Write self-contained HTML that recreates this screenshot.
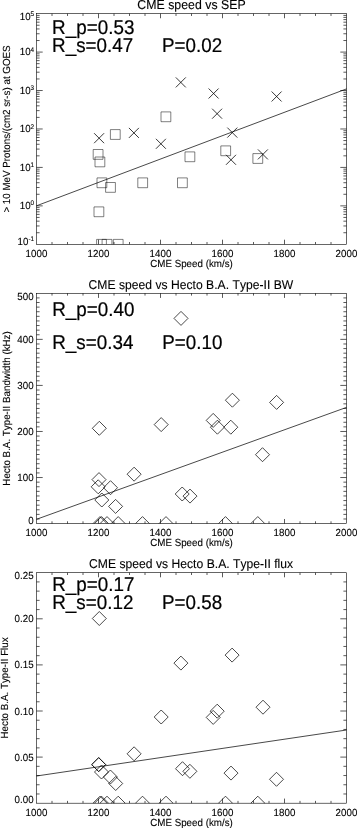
<!DOCTYPE html>
<html><head><meta charset="utf-8"><title>CME speed correlations</title>
<style>
html,body{margin:0;padding:0;background:#fff;}
svg{display:block;font-family:"Liberation Sans",sans-serif;fill:#000;font-kerning:none;}
</style></head>
<body>
<svg width="357" height="828" viewBox="0 0 357 828">
<rect width="357" height="828" fill="#fff"/>
<defs>
<clipPath id="c1"><rect x="36.5" y="13.65" width="310.0" height="230.65"/></clipPath>
<clipPath id="c2"><rect x="36.5" y="293.3" width="310.0" height="230.30"/></clipPath>
<clipPath id="c3"><rect x="36.5" y="572.7" width="310.0" height="230.50"/></clipPath>
</defs>
<rect x="36.5" y="13.65" width="310.0" height="230.65" fill="none" stroke="#000" stroke-width="0.6"/>
<path d="M52.00 244.3v-2.31M52.00 13.65v2.31M67.50 244.3v-2.31M67.50 13.65v2.31M83.00 244.3v-2.31M83.00 13.65v2.31M98.50 244.3v-4.61M98.50 13.65v4.61M114.00 244.3v-2.31M114.00 13.65v2.31M129.50 244.3v-2.31M129.50 13.65v2.31M145.00 244.3v-2.31M145.00 13.65v2.31M160.50 244.3v-4.61M160.50 13.65v4.61M176.00 244.3v-2.31M176.00 13.65v2.31M191.50 244.3v-2.31M191.50 13.65v2.31M207.00 244.3v-2.31M207.00 13.65v2.31M222.50 244.3v-4.61M222.50 13.65v4.61M238.00 244.3v-2.31M238.00 13.65v2.31M253.50 244.3v-2.31M253.50 13.65v2.31M269.00 244.3v-2.31M269.00 13.65v2.31M284.50 244.3v-4.61M284.50 13.65v4.61M300.00 244.3v-2.31M300.00 13.65v2.31M315.50 244.3v-2.31M315.50 13.65v2.31M331.00 244.3v-2.31M331.00 13.65v2.31" stroke="#000" stroke-width="0.65" fill="none"/>
<text transform="translate(36.50 256.80) skewX(0.3) scale(1 1.05)" text-anchor="middle" font-size="9.8" stroke="#000" stroke-width="0.1">1000</text>
<text transform="translate(98.50 256.80) skewX(0.3) scale(1 1.05)" text-anchor="middle" font-size="9.8" stroke="#000" stroke-width="0.1">1200</text>
<text transform="translate(160.50 256.80) skewX(0.3) scale(1 1.05)" text-anchor="middle" font-size="9.8" stroke="#000" stroke-width="0.1">1400</text>
<text transform="translate(222.50 256.80) skewX(0.3) scale(1 1.05)" text-anchor="middle" font-size="9.8" stroke="#000" stroke-width="0.1">1600</text>
<text transform="translate(284.50 256.80) skewX(0.3) scale(1 1.05)" text-anchor="middle" font-size="9.8" stroke="#000" stroke-width="0.1">1800</text>
<text transform="translate(346.50 256.80) skewX(0.3) scale(1 1.05)" text-anchor="middle" font-size="9.8" stroke="#000" stroke-width="0.1">2000</text>
<text transform="translate(191.50 266.90) skewX(0.3) scale(1 1.05)" text-anchor="middle" font-size="9.8" stroke="#000" stroke-width="0.1">CME Speed (km/s)</text>
<path d="M36.5 232.73h3.10M346.5 232.73h-3.10M36.5 225.96h3.10M346.5 225.96h-3.10M36.5 221.16h3.10M346.5 221.16h-3.10M36.5 217.43h3.10M346.5 217.43h-3.10M36.5 214.39h3.10M346.5 214.39h-3.10M36.5 211.81h3.10M346.5 211.81h-3.10M36.5 209.58h3.10M346.5 209.58h-3.10M36.5 207.62h3.10M346.5 207.62h-3.10M36.5 205.86h6.20M346.5 205.86h-6.20M36.5 194.29h3.10M346.5 194.29h-3.10M36.5 187.52h3.10M346.5 187.52h-3.10M36.5 182.71h3.10M346.5 182.71h-3.10M36.5 178.99h3.10M346.5 178.99h-3.10M36.5 175.94h3.10M346.5 175.94h-3.10M36.5 173.37h3.10M346.5 173.37h-3.10M36.5 171.14h3.10M346.5 171.14h-3.10M36.5 169.18h3.10M346.5 169.18h-3.10M36.5 167.42h6.20M346.5 167.42h-6.20M36.5 155.84h3.10M346.5 155.84h-3.10M36.5 149.08h3.10M346.5 149.08h-3.10M36.5 144.27h3.10M346.5 144.27h-3.10M36.5 140.55h3.10M346.5 140.55h-3.10M36.5 137.50h3.10M346.5 137.50h-3.10M36.5 134.93h3.10M346.5 134.93h-3.10M36.5 132.70h3.10M346.5 132.70h-3.10M36.5 130.73h3.10M346.5 130.73h-3.10M36.5 128.97h6.20M346.5 128.97h-6.20M36.5 117.40h3.10M346.5 117.40h-3.10M36.5 110.63h3.10M346.5 110.63h-3.10M36.5 105.83h3.10M346.5 105.83h-3.10M36.5 102.11h3.10M346.5 102.11h-3.10M36.5 99.06h3.10M346.5 99.06h-3.10M36.5 96.49h3.10M346.5 96.49h-3.10M36.5 94.26h3.10M346.5 94.26h-3.10M36.5 92.29h3.10M346.5 92.29h-3.10M36.5 90.53h6.20M346.5 90.53h-6.20M36.5 78.96h3.10M346.5 78.96h-3.10M36.5 72.19h3.10M346.5 72.19h-3.10M36.5 67.39h3.10M346.5 67.39h-3.10M36.5 63.66h3.10M346.5 63.66h-3.10M36.5 60.62h3.10M346.5 60.62h-3.10M36.5 58.05h3.10M346.5 58.05h-3.10M36.5 55.82h3.10M346.5 55.82h-3.10M36.5 53.85h3.10M346.5 53.85h-3.10M36.5 52.09h6.20M346.5 52.09h-6.20M36.5 40.52h3.10M346.5 40.52h-3.10M36.5 33.75h3.10M346.5 33.75h-3.10M36.5 28.95h3.10M346.5 28.95h-3.10M36.5 25.22h3.10M346.5 25.22h-3.10M36.5 22.18h3.10M346.5 22.18h-3.10M36.5 19.60h3.10M346.5 19.60h-3.10M36.5 17.38h3.10M346.5 17.38h-3.10M36.5 15.41h3.10M346.5 15.41h-3.10" stroke="#000" stroke-width="0.65" fill="none"/>
<text transform="translate(34.20 244.60) skewX(0.3) scale(1 1.05)" text-anchor="end" font-size="9.8" stroke="#000" stroke-width="0.1">10<tspan font-size="6.4" dy="-3.5">-1</tspan></text>
<text transform="translate(34.20 209.06) skewX(0.3) scale(1 1.05)" text-anchor="end" font-size="9.8" stroke="#000" stroke-width="0.1">10<tspan font-size="6.4" dy="-3.5">0</tspan></text>
<text transform="translate(34.20 170.62) skewX(0.3) scale(1 1.05)" text-anchor="end" font-size="9.8" stroke="#000" stroke-width="0.1">10<tspan font-size="6.4" dy="-3.5">1</tspan></text>
<text transform="translate(34.20 132.17) skewX(0.3) scale(1 1.05)" text-anchor="end" font-size="9.8" stroke="#000" stroke-width="0.1">10<tspan font-size="6.4" dy="-3.5">2</tspan></text>
<text transform="translate(34.20 93.73) skewX(0.3) scale(1 1.05)" text-anchor="end" font-size="9.8" stroke="#000" stroke-width="0.1">10<tspan font-size="6.4" dy="-3.5">3</tspan></text>
<text transform="translate(34.20 55.29) skewX(0.3) scale(1 1.05)" text-anchor="end" font-size="9.8" stroke="#000" stroke-width="0.1">10<tspan font-size="6.4" dy="-3.5">4</tspan></text>
<text transform="translate(34.20 20.15) skewX(0.3) scale(1 1.05)" text-anchor="end" font-size="9.8" stroke="#000" stroke-width="0.1">10<tspan font-size="6.4" dy="-3.5">5</tspan></text>
<text transform="translate(10.3 128.97) rotate(-90) skewX(0.3) scale(1 1.05)" text-anchor="middle" font-size="9.8" stroke="#000" stroke-width="0.1">&gt; 10 MeV Protons/(cm2 sr-s) at GOES</text>
<text transform="translate(191.50 9.00) skewX(0.3) scale(1 1.05)" text-anchor="middle" font-size="12.35" stroke="#000" stroke-width="0.1">CME speed vs SEP</text>
<text transform="translate(52.00 33.60) skewX(0.3) scale(1 1.05)" font-size="18.9" stroke="#000" stroke-width="0.2">R_p=0.53</text>
<text transform="translate(52.00 52.40) skewX(0.3) scale(1 1.05)" font-size="18.9" stroke="#000" stroke-width="0.2">R_s=0.47</text>
<text transform="translate(161.90 52.40) skewX(0.3) scale(1 1.05)" font-size="18.9" stroke="#000" stroke-width="0.2">P=0.02</text>
<path d="M36.5 205.8L346.5 88.9" stroke="#000" stroke-width="0.72" fill="none"/>
<path d="M94.10 133.20l10.0 10.0M94.10 143.20l10.0 -10.0M128.90 127.90l10.0 10.0M128.90 137.90l10.0 -10.0M155.90 138.80l10.0 10.0M155.90 148.80l10.0 -10.0M175.80 77.40l10.0 10.0M175.80 87.40l10.0 -10.0M208.60 88.50l10.0 10.0M208.60 98.50l10.0 -10.0M212.10 108.70l10.0 10.0M212.10 118.70l10.0 -10.0M227.30 127.60l10.0 10.0M227.30 137.60l10.0 -10.0M226.00 154.80l10.0 10.0M226.00 164.80l10.0 -10.0M271.60 91.50l10.0 10.0M271.60 101.50l10.0 -10.0M257.90 149.40l10.0 10.0M257.90 159.40l10.0 -10.0" stroke="#000" stroke-width="0.78" fill="none" clip-path="url(#c1)"/>
<path d="M110.40 129.60h9.8v9.8h-9.8zM161.00 111.90h9.8v9.8h-9.8zM93.20 149.50h9.8v9.8h-9.8zM95.00 157.00h9.8v9.8h-9.8zM97.00 177.90h9.8v9.8h-9.8zM105.60 182.50h9.8v9.8h-9.8zM137.80 177.90h9.8v9.8h-9.8zM94.00 206.90h9.8v9.8h-9.8zM185.00 151.90h9.8v9.8h-9.8zM220.80 145.90h9.8v9.8h-9.8zM177.50 177.90h9.8v9.8h-9.8zM252.90 153.60h9.8v9.8h-9.8zM96.60 239.40h9.8v9.8h-9.8zM102.10 239.40h9.8v9.8h-9.8zM113.30 239.40h9.8v9.8h-9.8z" stroke="#000" stroke-width="0.5" fill="none" clip-path="url(#c1)"/>
<rect x="36.5" y="293.3" width="310.0" height="230.30" fill="none" stroke="#000" stroke-width="0.6"/>
<path d="M52.00 523.6v-2.30M52.00 293.3v2.30M67.50 523.6v-2.30M67.50 293.3v2.30M83.00 523.6v-2.30M83.00 293.3v2.30M98.50 523.6v-4.61M98.50 293.3v4.61M114.00 523.6v-2.30M114.00 293.3v2.30M129.50 523.6v-2.30M129.50 293.3v2.30M145.00 523.6v-2.30M145.00 293.3v2.30M160.50 523.6v-4.61M160.50 293.3v4.61M176.00 523.6v-2.30M176.00 293.3v2.30M191.50 523.6v-2.30M191.50 293.3v2.30M207.00 523.6v-2.30M207.00 293.3v2.30M222.50 523.6v-4.61M222.50 293.3v4.61M238.00 523.6v-2.30M238.00 293.3v2.30M253.50 523.6v-2.30M253.50 293.3v2.30M269.00 523.6v-2.30M269.00 293.3v2.30M284.50 523.6v-4.61M284.50 293.3v4.61M300.00 523.6v-2.30M300.00 293.3v2.30M315.50 523.6v-2.30M315.50 293.3v2.30M331.00 523.6v-2.30M331.00 293.3v2.30" stroke="#000" stroke-width="0.65" fill="none"/>
<text transform="translate(36.50 536.10) skewX(0.3) scale(1 1.05)" text-anchor="middle" font-size="9.8" stroke="#000" stroke-width="0.1">1000</text>
<text transform="translate(98.50 536.10) skewX(0.3) scale(1 1.05)" text-anchor="middle" font-size="9.8" stroke="#000" stroke-width="0.1">1200</text>
<text transform="translate(160.50 536.10) skewX(0.3) scale(1 1.05)" text-anchor="middle" font-size="9.8" stroke="#000" stroke-width="0.1">1400</text>
<text transform="translate(222.50 536.10) skewX(0.3) scale(1 1.05)" text-anchor="middle" font-size="9.8" stroke="#000" stroke-width="0.1">1600</text>
<text transform="translate(284.50 536.10) skewX(0.3) scale(1 1.05)" text-anchor="middle" font-size="9.8" stroke="#000" stroke-width="0.1">1800</text>
<text transform="translate(346.50 536.10) skewX(0.3) scale(1 1.05)" text-anchor="middle" font-size="9.8" stroke="#000" stroke-width="0.1">2000</text>
<text transform="translate(191.50 546.20) skewX(0.3) scale(1 1.05)" text-anchor="middle" font-size="9.8" stroke="#000" stroke-width="0.1">CME Speed (km/s)</text>
<path d="M36.5 518.99h3.10M346.5 518.99h-3.10M36.5 514.39h3.10M346.5 514.39h-3.10M36.5 509.78h3.10M346.5 509.78h-3.10M36.5 505.18h3.10M346.5 505.18h-3.10M36.5 500.57h3.10M346.5 500.57h-3.10M36.5 495.96h3.10M346.5 495.96h-3.10M36.5 491.36h3.10M346.5 491.36h-3.10M36.5 486.75h3.10M346.5 486.75h-3.10M36.5 482.15h3.10M346.5 482.15h-3.10M36.5 477.54h6.20M346.5 477.54h-6.20M36.5 472.93h3.10M346.5 472.93h-3.10M36.5 468.33h3.10M346.5 468.33h-3.10M36.5 463.72h3.10M346.5 463.72h-3.10M36.5 459.12h3.10M346.5 459.12h-3.10M36.5 454.51h3.10M346.5 454.51h-3.10M36.5 449.90h3.10M346.5 449.90h-3.10M36.5 445.30h3.10M346.5 445.30h-3.10M36.5 440.69h3.10M346.5 440.69h-3.10M36.5 436.09h3.10M346.5 436.09h-3.10M36.5 431.48h6.20M346.5 431.48h-6.20M36.5 426.87h3.10M346.5 426.87h-3.10M36.5 422.27h3.10M346.5 422.27h-3.10M36.5 417.66h3.10M346.5 417.66h-3.10M36.5 413.06h3.10M346.5 413.06h-3.10M36.5 408.45h3.10M346.5 408.45h-3.10M36.5 403.84h3.10M346.5 403.84h-3.10M36.5 399.24h3.10M346.5 399.24h-3.10M36.5 394.63h3.10M346.5 394.63h-3.10M36.5 390.03h3.10M346.5 390.03h-3.10M36.5 385.42h6.20M346.5 385.42h-6.20M36.5 380.81h3.10M346.5 380.81h-3.10M36.5 376.21h3.10M346.5 376.21h-3.10M36.5 371.60h3.10M346.5 371.60h-3.10M36.5 367.00h3.10M346.5 367.00h-3.10M36.5 362.39h3.10M346.5 362.39h-3.10M36.5 357.78h3.10M346.5 357.78h-3.10M36.5 353.18h3.10M346.5 353.18h-3.10M36.5 348.57h3.10M346.5 348.57h-3.10M36.5 343.97h3.10M346.5 343.97h-3.10M36.5 339.36h6.20M346.5 339.36h-6.20M36.5 334.75h3.10M346.5 334.75h-3.10M36.5 330.15h3.10M346.5 330.15h-3.10M36.5 325.54h3.10M346.5 325.54h-3.10M36.5 320.94h3.10M346.5 320.94h-3.10M36.5 316.33h3.10M346.5 316.33h-3.10M36.5 311.72h3.10M346.5 311.72h-3.10M36.5 307.12h3.10M346.5 307.12h-3.10M36.5 302.51h3.10M346.5 302.51h-3.10M36.5 297.91h3.10M346.5 297.91h-3.10" stroke="#000" stroke-width="0.65" fill="none"/>
<text transform="translate(33.60 523.80) skewX(0.3) scale(1 1.05)" text-anchor="end" font-size="9.8" stroke="#000" stroke-width="0.1">0</text>
<text transform="translate(33.60 481.04) skewX(0.3) scale(1 1.05)" text-anchor="end" font-size="9.8" stroke="#000" stroke-width="0.1">100</text>
<text transform="translate(33.60 434.98) skewX(0.3) scale(1 1.05)" text-anchor="end" font-size="9.8" stroke="#000" stroke-width="0.1">200</text>
<text transform="translate(33.60 388.92) skewX(0.3) scale(1 1.05)" text-anchor="end" font-size="9.8" stroke="#000" stroke-width="0.1">300</text>
<text transform="translate(33.60 342.86) skewX(0.3) scale(1 1.05)" text-anchor="end" font-size="9.8" stroke="#000" stroke-width="0.1">400</text>
<text transform="translate(33.60 299.90) skewX(0.3) scale(1 1.05)" text-anchor="end" font-size="9.8" stroke="#000" stroke-width="0.1">500</text>
<text transform="translate(10.3 408.45) rotate(-90) skewX(0.3) scale(1 1.05)" text-anchor="middle" font-size="9.8" stroke="#000" stroke-width="0.1">Hecto B.A. Type-II Bandwidth (kHz)</text>
<text transform="translate(190.90 288.65) skewX(0.3) scale(1 1.05)" text-anchor="middle" font-size="12.18" stroke="#000" stroke-width="0.1">CME speed vs Hecto B.A. Type-II BW</text>
<text transform="translate(52.15 315.95) skewX(0.3) scale(1 1.05)" font-size="18.9" stroke="#000" stroke-width="0.2">R_p=0.40</text>
<text transform="translate(52.15 348.65) skewX(0.3) scale(1 1.05)" font-size="18.9" stroke="#000" stroke-width="0.2">R_s=0.34</text>
<text transform="translate(162.20 348.65) skewX(0.3) scale(1 1.05)" font-size="18.9" stroke="#000" stroke-width="0.2">P=0.10</text>
<path d="M36.5 519.3L346.5 407.4" stroke="#000" stroke-width="0.72" fill="none"/>
<path d="M174.00 318.40l7.0 -7.0l7.0 7.0l-7.0 7.0zM92.30 428.30l7.0 -7.0l7.0 7.0l-7.0 7.0zM154.20 424.60l7.0 -7.0l7.0 7.0l-7.0 7.0zM127.10 474.20l7.0 -7.0l7.0 7.0l-7.0 7.0zM92.00 479.60l7.0 -7.0l7.0 7.0l-7.0 7.0zM91.20 486.80l7.0 -7.0l7.0 7.0l-7.0 7.0zM103.50 487.70l7.0 -7.0l7.0 7.0l-7.0 7.0zM94.80 500.00l7.0 -7.0l7.0 7.0l-7.0 7.0zM108.60 506.40l7.0 -7.0l7.0 7.0l-7.0 7.0zM175.20 494.00l7.0 -7.0l7.0 7.0l-7.0 7.0zM183.00 496.10l7.0 -7.0l7.0 7.0l-7.0 7.0zM206.20 420.40l7.0 -7.0l7.0 7.0l-7.0 7.0zM210.40 427.20l7.0 -7.0l7.0 7.0l-7.0 7.0zM223.80 427.20l7.0 -7.0l7.0 7.0l-7.0 7.0zM225.40 400.20l7.0 -7.0l7.0 7.0l-7.0 7.0zM269.60 402.40l7.0 -7.0l7.0 7.0l-7.0 7.0zM255.50 454.70l7.0 -7.0l7.0 7.0l-7.0 7.0zM93.00 523.60l7.0 -7.0l7.0 7.0l-7.0 7.0zM94.50 523.60l7.0 -7.0l7.0 7.0l-7.0 7.0zM100.00 523.60l7.0 -7.0l7.0 7.0l-7.0 7.0zM111.20 523.60l7.0 -7.0l7.0 7.0l-7.0 7.0zM135.50 523.60l7.0 -7.0l7.0 7.0l-7.0 7.0zM159.00 523.60l7.0 -7.0l7.0 7.0l-7.0 7.0zM218.50 523.60l7.0 -7.0l7.0 7.0l-7.0 7.0zM250.80 523.60l7.0 -7.0l7.0 7.0l-7.0 7.0z" stroke="#000" stroke-width="0.72" fill="none" clip-path="url(#c2)"/>
<rect x="36.5" y="572.7" width="310.0" height="230.50" fill="none" stroke="#000" stroke-width="0.6"/>
<path d="M52.00 803.2v-2.31M52.00 572.7v2.31M67.50 803.2v-2.31M67.50 572.7v2.31M83.00 803.2v-2.31M83.00 572.7v2.31M98.50 803.2v-4.61M98.50 572.7v4.61M114.00 803.2v-2.31M114.00 572.7v2.31M129.50 803.2v-2.31M129.50 572.7v2.31M145.00 803.2v-2.31M145.00 572.7v2.31M160.50 803.2v-4.61M160.50 572.7v4.61M176.00 803.2v-2.31M176.00 572.7v2.31M191.50 803.2v-2.31M191.50 572.7v2.31M207.00 803.2v-2.31M207.00 572.7v2.31M222.50 803.2v-4.61M222.50 572.7v4.61M238.00 803.2v-2.31M238.00 572.7v2.31M253.50 803.2v-2.31M253.50 572.7v2.31M269.00 803.2v-2.31M269.00 572.7v2.31M284.50 803.2v-4.61M284.50 572.7v4.61M300.00 803.2v-2.31M300.00 572.7v2.31M315.50 803.2v-2.31M315.50 572.7v2.31M331.00 803.2v-2.31M331.00 572.7v2.31" stroke="#000" stroke-width="0.65" fill="none"/>
<text transform="translate(36.50 815.70) skewX(0.3) scale(1 1.05)" text-anchor="middle" font-size="9.8" stroke="#000" stroke-width="0.1">1000</text>
<text transform="translate(98.50 815.70) skewX(0.3) scale(1 1.05)" text-anchor="middle" font-size="9.8" stroke="#000" stroke-width="0.1">1200</text>
<text transform="translate(160.50 815.70) skewX(0.3) scale(1 1.05)" text-anchor="middle" font-size="9.8" stroke="#000" stroke-width="0.1">1400</text>
<text transform="translate(222.50 815.70) skewX(0.3) scale(1 1.05)" text-anchor="middle" font-size="9.8" stroke="#000" stroke-width="0.1">1600</text>
<text transform="translate(284.50 815.70) skewX(0.3) scale(1 1.05)" text-anchor="middle" font-size="9.8" stroke="#000" stroke-width="0.1">1800</text>
<text transform="translate(346.50 815.70) skewX(0.3) scale(1 1.05)" text-anchor="middle" font-size="9.8" stroke="#000" stroke-width="0.1">2000</text>
<text transform="translate(191.50 825.80) skewX(0.3) scale(1 1.05)" text-anchor="middle" font-size="9.8" stroke="#000" stroke-width="0.1">CME Speed (km/s)</text>
<path d="M36.5 793.98h3.10M346.5 793.98h-3.10M36.5 784.76h3.10M346.5 784.76h-3.10M36.5 775.54h3.10M346.5 775.54h-3.10M36.5 766.32h3.10M346.5 766.32h-3.10M36.5 757.10h6.20M346.5 757.10h-6.20M36.5 747.88h3.10M346.5 747.88h-3.10M36.5 738.66h3.10M346.5 738.66h-3.10M36.5 729.44h3.10M346.5 729.44h-3.10M36.5 720.22h3.10M346.5 720.22h-3.10M36.5 711.00h6.20M346.5 711.00h-6.20M36.5 701.78h3.10M346.5 701.78h-3.10M36.5 692.56h3.10M346.5 692.56h-3.10M36.5 683.34h3.10M346.5 683.34h-3.10M36.5 674.12h3.10M346.5 674.12h-3.10M36.5 664.90h6.20M346.5 664.90h-6.20M36.5 655.68h3.10M346.5 655.68h-3.10M36.5 646.46h3.10M346.5 646.46h-3.10M36.5 637.24h3.10M346.5 637.24h-3.10M36.5 628.02h3.10M346.5 628.02h-3.10M36.5 618.80h6.20M346.5 618.80h-6.20M36.5 609.58h3.10M346.5 609.58h-3.10M36.5 600.36h3.10M346.5 600.36h-3.10M36.5 591.14h3.10M346.5 591.14h-3.10M36.5 581.92h3.10M346.5 581.92h-3.10" stroke="#000" stroke-width="0.65" fill="none"/>
<text transform="translate(33.60 803.40) skewX(0.3) scale(1 1.05)" text-anchor="end" font-size="9.8" stroke="#000" stroke-width="0.1">0.00</text>
<text transform="translate(33.60 760.60) skewX(0.3) scale(1 1.05)" text-anchor="end" font-size="9.8" stroke="#000" stroke-width="0.1">0.05</text>
<text transform="translate(33.60 714.50) skewX(0.3) scale(1 1.05)" text-anchor="end" font-size="9.8" stroke="#000" stroke-width="0.1">0.10</text>
<text transform="translate(33.60 668.40) skewX(0.3) scale(1 1.05)" text-anchor="end" font-size="9.8" stroke="#000" stroke-width="0.1">0.15</text>
<text transform="translate(33.60 622.30) skewX(0.3) scale(1 1.05)" text-anchor="end" font-size="9.8" stroke="#000" stroke-width="0.1">0.20</text>
<text transform="translate(33.60 579.30) skewX(0.3) scale(1 1.05)" text-anchor="end" font-size="9.8" stroke="#000" stroke-width="0.1">0.25</text>
<text transform="translate(7.5 687.95) rotate(-90) skewX(0.3) scale(1 1.05)" text-anchor="middle" font-size="9.8" stroke="#000" stroke-width="0.1">Hecto B.A. Type-II Flux</text>
<text transform="translate(191.10 568.05) skewX(0.3) scale(1 1.05)" text-anchor="middle" font-size="12.18" stroke="#000" stroke-width="0.1">CME speed vs Hecto B.A. Type-II flux</text>
<text transform="translate(52.15 591.30) skewX(0.3) scale(1 1.05)" font-size="18.9" stroke="#000" stroke-width="0.2">R_p=0.17</text>
<text transform="translate(52.15 609.30) skewX(0.3) scale(1 1.05)" font-size="18.9" stroke="#000" stroke-width="0.2">R_s=0.12</text>
<text transform="translate(161.90 609.30) skewX(0.3) scale(1 1.05)" font-size="18.9" stroke="#000" stroke-width="0.2">P=0.58</text>
<path d="M36.5 776.0L346.5 730.0" stroke="#000" stroke-width="0.72" fill="none"/>
<path d="M92.30 618.50l7.0 -7.0l7.0 7.0l-7.0 7.0zM154.20 717.00l7.0 -7.0l7.0 7.0l-7.0 7.0zM127.10 753.80l7.0 -7.0l7.0 7.0l-7.0 7.0zM91.70 764.60l7.0 -7.0l7.0 7.0l-7.0 7.0zM94.50 772.00l7.0 -7.0l7.0 7.0l-7.0 7.0zM103.40 777.00l7.0 -7.0l7.0 7.0l-7.0 7.0zM108.70 783.50l7.0 -7.0l7.0 7.0l-7.0 7.0zM173.90 663.10l7.0 -7.0l7.0 7.0l-7.0 7.0zM225.10 655.10l7.0 -7.0l7.0 7.0l-7.0 7.0zM256.00 707.20l7.0 -7.0l7.0 7.0l-7.0 7.0zM210.20 711.20l7.0 -7.0l7.0 7.0l-7.0 7.0zM206.20 717.40l7.0 -7.0l7.0 7.0l-7.0 7.0zM175.50 768.70l7.0 -7.0l7.0 7.0l-7.0 7.0zM182.90 771.30l7.0 -7.0l7.0 7.0l-7.0 7.0zM224.00 773.10l7.0 -7.0l7.0 7.0l-7.0 7.0zM269.50 779.30l7.0 -7.0l7.0 7.0l-7.0 7.0zM93.00 803.20l7.0 -7.0l7.0 7.0l-7.0 7.0zM94.50 803.20l7.0 -7.0l7.0 7.0l-7.0 7.0zM100.00 803.20l7.0 -7.0l7.0 7.0l-7.0 7.0zM111.20 803.20l7.0 -7.0l7.0 7.0l-7.0 7.0zM135.50 803.20l7.0 -7.0l7.0 7.0l-7.0 7.0zM159.00 803.20l7.0 -7.0l7.0 7.0l-7.0 7.0zM218.50 803.20l7.0 -7.0l7.0 7.0l-7.0 7.0zM250.80 803.20l7.0 -7.0l7.0 7.0l-7.0 7.0z" stroke="#000" stroke-width="0.72" fill="none" clip-path="url(#c3)"/>
<path d="M91.70 764.60l7.0 -7.0l7.0 7.0l-7.0 7.0z" stroke="#000" stroke-width="0.72" fill="none" clip-path="url(#c3)"/>
</svg>
</body></html>
